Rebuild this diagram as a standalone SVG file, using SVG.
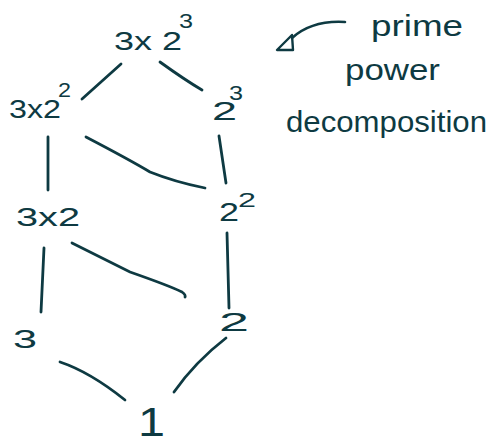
<svg xmlns="http://www.w3.org/2000/svg" width="490" height="446" viewBox="0 0 490 446">
<style>
text{font-family:"Liberation Sans",Arial,sans-serif;fill:#0e3a42}
.n{font-size:25px}
.s{font-size:21px}
.a{font-size:30px}
.c path{fill:none;stroke:#0e3a42;stroke-width:2.8;stroke-linecap:round}
</style>
<rect width="490" height="446" fill="#fff"/>
<g id="n-3x2-3"><text class="n" x="114" y="50" textLength="68" lengthAdjust="spacingAndGlyphs">3x 2</text><text class="s" x="179" y="28" textLength="14" lengthAdjust="spacingAndGlyphs">3</text></g>
<g id="n-3x2-2"><text class="n" x="9" y="118" textLength="52" lengthAdjust="spacingAndGlyphs">3x2</text><text class="s" x="58" y="97" textLength="13" lengthAdjust="spacingAndGlyphs">2</text></g>
<g id="n-2-3"><text class="n" x="212" y="120" textLength="25" lengthAdjust="spacingAndGlyphs">2</text><text class="s" x="229" y="100" textLength="14" lengthAdjust="spacingAndGlyphs">3</text></g>
<g id="n-3x2"><text class="n" x="16" y="226" textLength="64" lengthAdjust="spacingAndGlyphs">3x2</text></g>
<g id="n-2-2"><text class="n" x="219" y="221" textLength="20" lengthAdjust="spacingAndGlyphs">2</text><text class="s" x="238" y="207" textLength="18" lengthAdjust="spacingAndGlyphs">2</text></g>
<g id="n-3"><text class="n" x="13" y="348" textLength="24" lengthAdjust="spacingAndGlyphs">3</text></g>
<g id="n-2"><text class="n" x="219" y="331" textLength="30" lengthAdjust="spacingAndGlyphs">2</text></g>
<g id="n-1"><text class="n" x="138" y="436" style="font-size:40px" textLength="27" lengthAdjust="spacingAndGlyphs">1</text></g>
<g class="c" id="connectors">
<path d="M121,64 L82,99"/>
<path d="M160,62 Q185,80 202,90"/>
<path d="M48,137 L48,190"/>
<path d="M86,137 Q130,160 150,172 Q175,182 205,188"/>
<path d="M219,136 L226,183"/>
<path d="M44,248 L41,312"/>
<path d="M72,243 Q110,262 130,272 Q170,286 182,292 Q186,295 185,297"/>
<path d="M227,233 L229,308"/>
<path d="M60,362 Q90,372 125,400"/>
<path d="M226,338 Q195,362 174,392"/>
</g>
<g id="annotation">
<path d="M345,22 Q312,20 292,38" fill="none" stroke="#0e3a42" stroke-width="2.6" stroke-linecap="round"/>
<path d="M292,35 L277,50 L293,50 Z" fill="none" stroke="#0e3a42" stroke-width="2.4" stroke-linejoin="round"/>
<text class="a" x="371" y="36" textLength="92" lengthAdjust="spacingAndGlyphs">prime</text>
<text class="a" x="345" y="80" textLength="95" lengthAdjust="spacingAndGlyphs">power</text>
<text class="a" x="286" y="132" textLength="201" lengthAdjust="spacingAndGlyphs">decomposition</text>
</g>
</svg>
